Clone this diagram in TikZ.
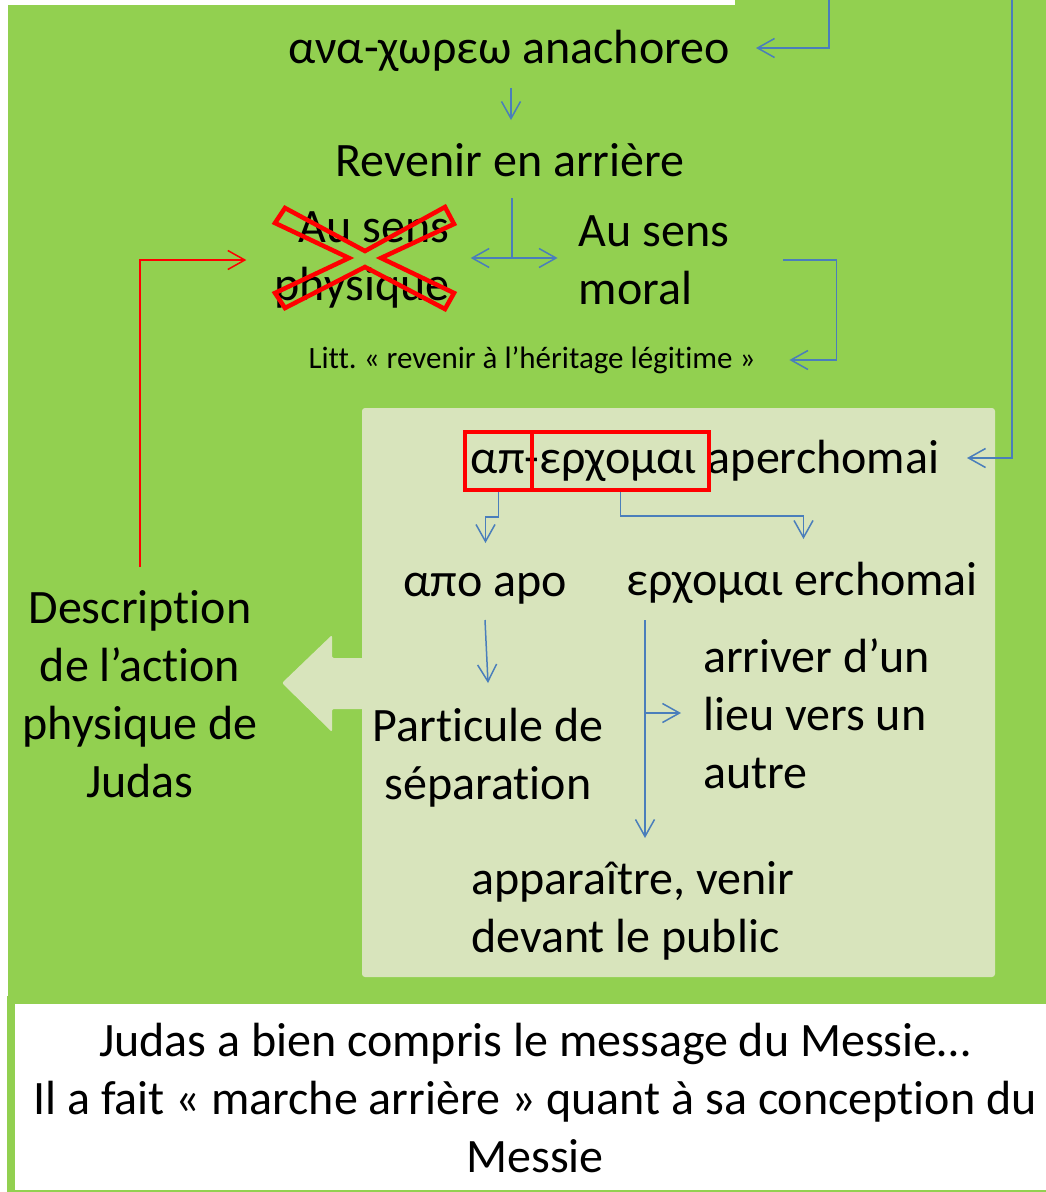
\documentclass[tikz,border=0pt]{standalone}
\usepackage{fontspec}
\setmainfont{Carlito}[Ligatures=NoCommon]
\usetikzlibrary{arrows.meta}
\definecolor{leafgreen}{HTML}{92D050}
\definecolor{palegreen}{HTML}{D8E4BC}
\definecolor{linkblue}{HTML}{4A7EBB}
\definecolor{crossred}{HTML}{FF0000}
\tikzset{
  big/.style={font=\fontsize{48}{58}\selectfont, inner sep=0pt},
  small/.style={font=\fontsize{31}{37}\selectfont, inner sep=0pt},
  link/.style={draw=linkblue, line width=1.5pt, -{Straight Barb[length=17pt,width=19pt]}},
  bare/.style={draw=linkblue, line width=1.5pt},
  redlink/.style={draw=crossred, line width=1.5pt, -{Straight Barb[length=17pt,width=19pt]}},
  redbox/.style={draw=crossred, line width=4pt, inner sep=0pt},
}
\begin{document}
\begin{tikzpicture}[x=1pt,y=-1pt]
\useasboundingbox (0,0) rectangle (1046,1192);
% fonds
\fill[leafgreen] (8,5) rectangle (1046,1003);
\fill[leafgreen] (735,0) rectangle (1046,5);
\draw[leafgreen, line width=8pt, fill=white] (11,1000) rectangle (1052,1194);
\fill[palegreen, rounded corners=3pt] (362,408) rectangle (995,977);
\fill[palegreen, rounded corners=2pt] (364,658) -- (332,658) -- (332,635) -- (282,683)
  -- (332,732) -- (332,709) -- (364,709) -- cycle;

% textes
\node[big] (anach) at (509,51) {ανα-χωρεω anachoreo};
\node[big] (revenir) at (510,160) {Revenir en arrière};
\node[big, align=right] (physique) at (362,260) {Au sens\\physique};
\node[big, align=left] (moral) at (654,260) {Au sens\\moral};
\node[small] (litt) at (532,360) {Litt.\ « revenir à l’héritage légitime »};
\node[big, align=center] (descr) at (140,694) {Description\\de l’action\\physique de\\Judas};
\node[big] (aper) at (705,461) {απ-ερχομαι aperchomai};
\node[big] (apo) at (485,589) {απο apo};
\node[big] (erch) at (802,583) {ερχομαι erchomai};
\node[big, align=center] (partic) at (488,758) {Particule de\\séparation};
\node[big, align=left, anchor=west] (arriver) at (703,714) {arriver d’un\\lieu vers un\\autre};
\node[big, align=left, anchor=west] (appar) at (471,911) {apparaître, venir\\devant le public};
\node[big, align=center] (judas) at (535,1098) {Judas a bien compris le message du Messie…\\Il a fait « marche arrière » quant à sa conception du\\Messie};

% croix rouge
\draw[crossred, line width=4.5pt] (275,223) -- (285,208) -- (365,251) -- (445,207) -- (454,224)
  -- (381,258) -- (454,293) -- (445,309) -- (365,267) -- (285,308) -- (275,293) -- (349,258) -- cycle;
\node[redbox, minimum width=67pt, minimum height=58pt] (boxap) at (498.5,461) {};
\node[redbox, minimum width=177pt, minimum height=58pt] (boxerch) at (620.5,461) {};

% liens
\coordinate (topin) at (829,0);
\coordinate (sidein) at (1012,0);
\draw[link] (topin) |- ([shift={(247,-3)}]anach.center);
\draw[link] ([shift={(2,37)}]anach.center) -- ([shift={(1,-40)}]revenir.center);
\coordinate (fork) at ([shift={(2,98)}]revenir.center);
\draw[bare] ([shift={(2,38)}]revenir.center) -- (fork);
\draw[link] (fork) -- ([xshift=21pt]physique.east |- fork);
\draw[link] (fork) -- ([xshift=-21pt]moral.west |- fork);
\draw[link] ([xshift=54pt]moral.east) -- ++(53,0) -- ++(0,100) -- ++(-47,0);
\draw[redlink] ([yshift=23pt]descr.north) |- ([xshift=-28pt]physique.west);
\draw[link] (sidein) |- ([shift={(262,-3)}]aper.center);
\draw[link] (boxap.south) -- ++(0,25) -- ++(-13,0) -- ++(0,26);
\draw[link] (boxerch.south) -- ++(0,24) -- ++(183,0) -- ++(0,23);
\draw[link] ([shift={(0,31)}]apo.center) -- ([shift={(3,94)}]apo.center);
\draw[link] ([shift={(-157,37)}]erch.center) -- ([shift={(-157,255)}]erch.center);
\draw[link] ([shift={(-157,130)}]erch.center) -- ++(36,0);
\end{tikzpicture}
\end{document}
